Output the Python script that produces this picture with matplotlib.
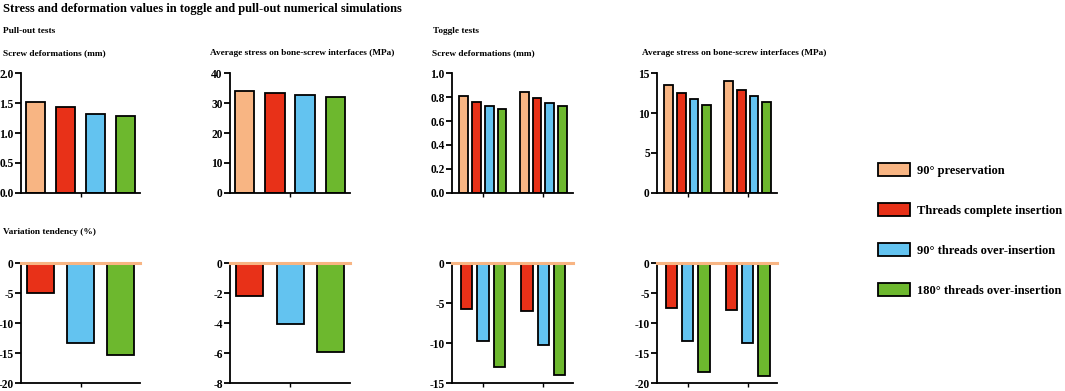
import matplotlib
matplotlib.use("Agg")
import matplotlib.pyplot as plt
from matplotlib.patches import Patch
import numpy as np

plt.rcParams['font.family'] = ['Liberation Serif', 'DejaVu Serif']
plt.rcParams['font.weight'] = 'bold'
plt.rcParams['axes.unicode_minus'] = False

series = ["90° preservation", "Threads complete insertion",
          "90° threads over-insertion", "180° threads over-insertion"]
colors = ["#F8B583", "#E83118", "#63C3F0", "#6DB82E"]

# Pull-out tests
pull_deform = [1.51, 1.43, 1.31, 1.28]
pull_stress = [34.0, 33.2, 32.6, 32.0]
pull_deform_var = [0.0, -5.0, -13.4, -15.3]
pull_stress_var = [0.0, -2.2, -4.05, -5.9]

# Toggle tests (two groups)
toggle_deform = [[0.807, 0.762, 0.729, 0.702], [0.840, 0.790, 0.754, 0.721]]
toggle_stress = [[13.5, 12.5, 11.73, 11.05], [14.0, 12.93, 12.14, 11.4]]
toggle_deform_var = [[0.0, -5.7, -9.7, -13.0], [0.0, -6.0, -10.3, -14.0]]
toggle_stress_var = [[0.0, -7.5, -13.0, -18.2], [0.0, -7.8, -13.4, -18.8]]

W, H = 1065, 391
fig = plt.figure(figsize=(W / 100, H / 100), dpi=100)

def add_ax(l, r, t, b):
    return fig.add_axes([l / W, 1 - b / H, (r - l) / W, (b - t) / H])

def style(ax, ylim, yticks, fmt, xticks):
    for s in ['top', 'right']:
        ax.spines[s].set_visible(False)
    for s in ['left', 'bottom']:
        ax.spines[s].set_linewidth(1.3)
    ax.set_ylim(*ylim)
    ax.set_yticks(yticks)
    ax.set_yticklabels([fmt.format(v) for v in yticks], fontsize=8.3, fontweight='bold')
    ax.set_xticks(xticks)
    ax.set_xticklabels([])
    ax.tick_params(axis='y', length=4, width=1.3, pad=1.2)
    ax.tick_params(axis='x', length=3, width=1.0)

TL = 73; TB = 193; BT = 263; BB = 383
cols = [(21, 140), (230, 350), (452, 573), (657, 777)]

# Top-row pull-out
for (l, r), vals, ylim, yt, fmt in [
        (cols[0], pull_deform, (0, 2.0), [0, 0.5, 1.0, 1.5, 2.0], "{:.1f}"),
        (cols[1], pull_stress, (0, 40), [0, 10, 20, 30, 40], "{:.0f}")]:
    ax = add_ax(l, r, TL, TB)
    off = (np.arange(4) - 1.5) * 0.252
    ax.bar(off, vals, width=0.163, color=colors, edgecolor='black', linewidth=1.3)
    ax.set_xlim(-0.5, 0.5)
    style(ax, ylim, yt, fmt, [0])

# Bottom-row pull-out
for (l, r), vals, ylim, yt in [
        (cols[0], pull_deform_var, (-20, 0), [-20, -15, -10, -5, 0]),
        (cols[1], pull_stress_var, (-8, 0), [-8, -6, -4, -2, 0])]:
    ax = add_ax(l, r, BT, BB)
    off = (np.arange(3) - 1) * 0.335
    ax.bar(off, vals[1:], width=0.225, color=colors[1:], edgecolor='black', linewidth=1.3)
    ax.axhline(vals[0], color=colors[0], linewidth=2.2, zorder=5, clip_on=False)
    ax.set_xlim(-0.5, 0.5)
    style(ax, ylim, yt, "{:.0f}", [0])

# Top-row toggle
for (l, r), groups, ylim, yt, fmt in [
        (cols[2], toggle_deform, (0, 1.0), [0, 0.2, 0.4, 0.6, 0.8, 1.0], "{:.1f}"),
        (cols[3], toggle_stress, (0, 15), [0, 5, 10, 15], "{:.0f}")]:
    ax = add_ax(l, r, TL, TB)
    off = (np.arange(4) - 1.5) * 0.211
    for g, vals in enumerate(groups):
        ax.bar(g + off, vals, width=0.145, color=colors, edgecolor='black', linewidth=1.3)
    ax.set_xlim(-0.51, 1.49)
    style(ax, ylim, yt, fmt, [0, 1])

# Bottom-row toggle
for (l, r), groups, ylim, yt in [
        (cols[2], toggle_deform_var, (-15, 0), [-15, -10, -5, 0]),
        (cols[3], toggle_stress_var, (-20, 0), [-20, -15, -10, -5, 0])]:
    ax = add_ax(l, r, BT, BB)
    off = (np.arange(3) - 1) * 0.272
    for g, vals in enumerate(groups):
        ax.bar(g + off, vals[1:], width=0.187, color=colors[1:], edgecolor='black', linewidth=1.3)
    ax.axhline(0, color=colors[0], linewidth=2.2, zorder=5, clip_on=False)
    ax.set_xlim(-0.51, 1.49)
    style(ax, ylim, yt, "{:.0f}", [0, 1])

def ftext(x, y, s, size):
    fig.text(x / W, 1 - y / H, s, fontsize=size, fontweight='bold', va='center', ha='left')

ftext(3, 9, "Stress and deformation values in toggle and pull-out numerical simulations", 9.0)
ftext(3, 31, "Pull-out tests", 6.7)
ftext(433, 31, "Toggle tests", 6.7)
ftext(3, 53, "Screw deformations (mm)", 6.7)
ftext(210, 53, "Average stress on bone-screw interfaces (MPa)", 6.7)
ftext(432, 53, "Screw deformations (mm)", 6.7)
ftext(642, 53, "Average stress on bone-screw interfaces (MPa)", 6.7)
ftext(3, 232, "Variation tendency (%)", 6.7)

handles = [Patch(facecolor=c, edgecolor='black', linewidth=1.3) for c in colors]
fig.legend(handles, series, loc='upper left', bbox_to_anchor=(878 / W, 1 - 163 / H),
           frameon=False, prop={'family': 'Liberation Serif', 'weight': 'bold', 'size': 9},
           handlelength=2.56, handleheight=1.28, labelspacing=2.08, handletextpad=0.55,
           borderpad=0, borderaxespad=0)

fig.savefig("out.png", dpi=100)
